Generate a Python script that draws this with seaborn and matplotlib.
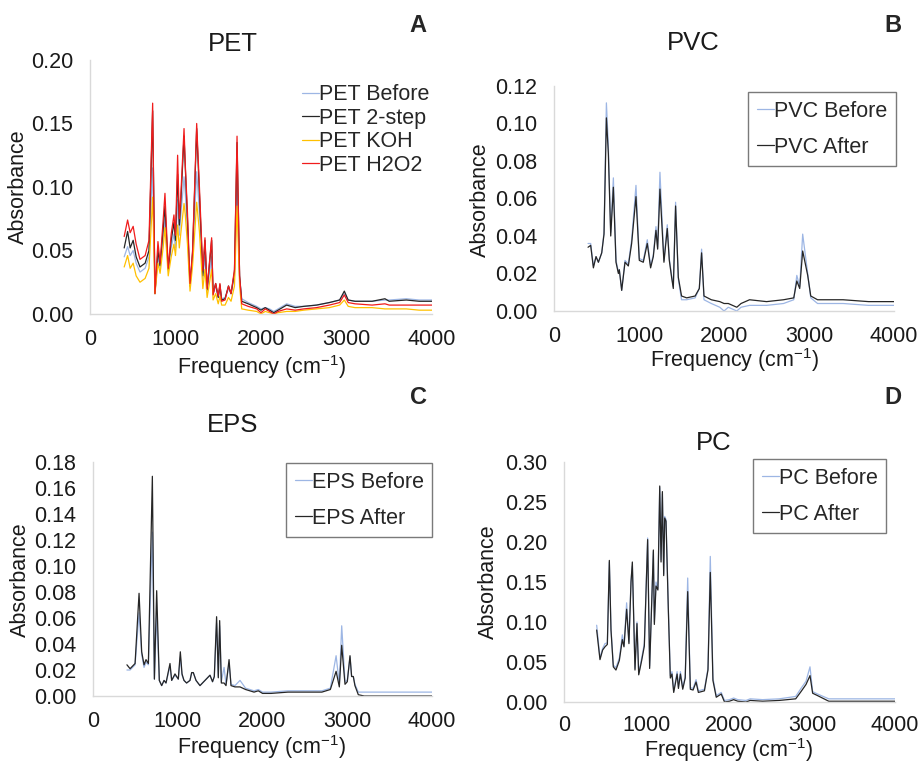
import numpy as np
import pandas as pd
import matplotlib
matplotlib.use("Agg")
import matplotlib.pyplot as plt
import seaborn as sns

# ---- PET (panel A) ----
pet_freq = [400, 440, 470, 505, 540, 585, 645, 690, 733, 760, 795, 820, 855, 877, 915, 950,
            982, 1000, 1025, 1045, 1060, 1100, 1115, 1140, 1170, 1200, 1248, 1280, 1320, 1345,
            1370, 1423, 1440, 1470, 1500, 1520, 1540, 1580, 1620, 1650, 1690, 1720, 1750, 1775,
            1850, 1950, 2000, 2050, 2100, 2150, 2200, 2300, 2400, 2500, 2650, 2800, 2920, 2975,
            3020, 3100, 3300, 3450, 3500, 3700, 3850, 4000]
pet_before = [0.045, 0.053, 0.046, 0.050, 0.040, 0.033, 0.036, 0.045, 0.115, 0.017, 0.045, 0.036,
              0.058, 0.075, 0.034, 0.052, 0.063, 0.052, 0.090, 0.062, 0.075, 0.108, 0.095, 0.065,
              0.022, 0.045, 0.112, 0.080, 0.028, 0.045, 0.018, 0.045, 0.016, 0.022, 0.013, 0.020,
              0.012, 0.013, 0.020, 0.016, 0.030, 0.105, 0.028, 0.012, 0.009, 0.006, 0.004, 0.005,
              0.004, 0.002, 0.004, 0.008, 0.006, 0.006, 0.007, 0.009, 0.011, 0.016, 0.011, 0.010,
              0.010, 0.011, 0.011, 0.012, 0.011, 0.011]
pet_2step = [0.052, 0.065, 0.052, 0.058, 0.045, 0.037, 0.040, 0.050, 0.160, 0.016, 0.050, 0.038,
             0.066, 0.085, 0.035, 0.058, 0.072, 0.058, 0.110, 0.070, 0.085, 0.140, 0.115, 0.075,
             0.022, 0.048, 0.146, 0.095, 0.030, 0.058, 0.019, 0.058, 0.016, 0.024, 0.013, 0.023,
             0.011, 0.012, 0.022, 0.016, 0.033, 0.135, 0.030, 0.010, 0.008, 0.005, 0.003, 0.005,
             0.003, 0.001, 0.003, 0.007, 0.005, 0.006, 0.007, 0.009, 0.011, 0.018, 0.011, 0.010,
             0.010, 0.012, 0.010, 0.011, 0.010, 0.010]
pet_koh = [0.037, 0.046, 0.036, 0.040, 0.030, 0.025, 0.028, 0.036, 0.092, 0.016, 0.040, 0.032,
           0.052, 0.068, 0.030, 0.045, 0.055, 0.046, 0.070, 0.052, 0.062, 0.087, 0.078, 0.055,
           0.018, 0.038, 0.088, 0.065, 0.020, 0.035, 0.013, 0.035, 0.011, 0.016, 0.008, 0.014,
           0.007, 0.007, 0.013, 0.010, 0.022, 0.085, 0.022, 0.004, 0.003, 0.002, 0.000, 0.002,
           0.001, 0.000, 0.001, 0.002, 0.002, 0.003, 0.004, 0.005, 0.007, 0.011, 0.006, 0.005,
           0.005, 0.004, 0.004, 0.004, 0.003, 0.003]
pet_h2o2 = [0.061, 0.074, 0.064, 0.069, 0.055, 0.043, 0.046, 0.058, 0.166, 0.016, 0.057, 0.040,
            0.073, 0.095, 0.036, 0.063, 0.078, 0.062, 0.125, 0.075, 0.090, 0.146, 0.117, 0.080,
            0.024, 0.050, 0.150, 0.100, 0.034, 0.060, 0.020, 0.060, 0.015, 0.024, 0.014, 0.024,
            0.010, 0.011, 0.022, 0.016, 0.035, 0.140, 0.030, 0.008, 0.006, 0.004, 0.001, 0.004,
            0.002, 0.000, 0.002, 0.004, 0.003, 0.004, 0.005, 0.007, 0.009, 0.015, 0.009, 0.008,
            0.007, 0.008, 0.007, 0.007, 0.007, 0.007]

# ---- PVC (panel B) ----
pvc_freq = [400, 431, 463, 494, 522, 561, 588, 616, 639, 667, 698, 729, 757, 768, 796, 835, 874,
            913, 964, 1003, 1050, 1097, 1136, 1168, 1199, 1219, 1246, 1293, 1332, 1356, 1383, 1403,
            1430, 1462, 1500, 1560, 1660, 1709, 1736, 1764, 1850, 1950, 2000, 2050, 2150, 2200,
            2300, 2500, 2700, 2820, 2856, 2890, 2925, 2984, 3020, 3100, 3400, 3700, 4000]
pvc_before = [0.036, 0.036, 0.024, 0.029, 0.026, 0.031, 0.042, 0.111, 0.088, 0.042, 0.071, 0.027,
              0.021, 0.022, 0.011, 0.027, 0.025, 0.038, 0.067, 0.028, 0.027, 0.038, 0.024, 0.030,
              0.045, 0.034, 0.074, 0.027, 0.046, 0.028, 0.019, 0.013, 0.058, 0.017, 0.006, 0.006,
              0.007, 0.012, 0.033, 0.006, 0.004, 0.002, 0.000, 0.002, 0.000, 0.002, 0.003, 0.003,
              0.004, 0.006, 0.019, 0.013, 0.041, 0.020, 0.007, 0.004, 0.004, 0.003, 0.003]
pvc_after = [0.034, 0.035, 0.023, 0.029, 0.026, 0.031, 0.041, 0.103, 0.084, 0.040, 0.066, 0.026,
             0.020, 0.022, 0.011, 0.026, 0.024, 0.036, 0.061, 0.027, 0.026, 0.036, 0.023, 0.029,
             0.043, 0.033, 0.065, 0.026, 0.044, 0.027, 0.018, 0.012, 0.056, 0.018, 0.008, 0.007,
             0.008, 0.012, 0.031, 0.008, 0.006, 0.005, 0.004, 0.004, 0.002, 0.004, 0.006, 0.005,
             0.006, 0.007, 0.016, 0.012, 0.032, 0.019, 0.008, 0.006, 0.006, 0.005, 0.005]

# ---- EPS (panel C) ----
eps_freq = [400, 437, 496, 543, 574, 602, 625, 653, 700, 724, 751, 782, 810, 838, 861, 908, 928,
            967, 1006, 1030, 1050, 1073, 1104, 1144, 1164, 1183, 1215, 1262, 1321, 1380, 1410, 1431,
            1458, 1478, 1494, 1514, 1546, 1569, 1605, 1628, 1675, 1734, 1800, 1850, 1900, 1950,
            2000, 2100, 2300, 2500, 2700, 2800, 2868, 2906, 2934, 2973, 3000, 3032, 3051, 3071,
            3090, 3130, 3200, 3500, 3800, 4000]
eps_before = [0.020, 0.020, 0.024, 0.064, 0.032, 0.022, 0.026, 0.024, 0.126, 0.013, 0.064, 0.012,
              0.008, 0.012, 0.010, 0.023, 0.012, 0.016, 0.013, 0.030, 0.016, 0.012, 0.010, 0.012,
              0.018, 0.018, 0.012, 0.008, 0.012, 0.016, 0.011, 0.015, 0.056, 0.015, 0.054, 0.011,
              0.022, 0.009, 0.025, 0.009, 0.008, 0.012, 0.006, 0.005, 0.004, 0.005, 0.003, 0.003,
              0.004, 0.004, 0.004, 0.006, 0.031, 0.009, 0.054, 0.011, 0.012, 0.030, 0.015, 0.015,
              0.009, 0.003, 0.003, 0.003, 0.003, 0.003]
eps_after = [0.024, 0.021, 0.025, 0.079, 0.034, 0.024, 0.028, 0.025, 0.169, 0.013, 0.081, 0.012,
             0.008, 0.012, 0.010, 0.025, 0.012, 0.017, 0.013, 0.034, 0.017, 0.012, 0.010, 0.012,
             0.018, 0.018, 0.012, 0.008, 0.012, 0.016, 0.011, 0.015, 0.061, 0.014, 0.058, 0.010,
             0.010, 0.008, 0.028, 0.008, 0.007, 0.007, 0.005, 0.004, 0.003, 0.004, 0.002, 0.002,
             0.003, 0.003, 0.003, 0.005, 0.019, 0.007, 0.039, 0.009, 0.011, 0.031, 0.015, 0.015,
             0.008, 0.001, 0.000, 0.000, 0.000, 0.000]

# ---- PC (panel D) ----
pc_freq = [395, 435, 467, 495, 524, 548, 568, 596, 628, 669, 705, 725, 757, 785, 810, 826, 858,
           882, 903, 939, 971, 1011, 1035, 1080, 1092, 1112, 1135, 1157, 1173, 1189, 1205, 1217,
           1233, 1261, 1285, 1305, 1326, 1367, 1383, 1407, 1435, 1465, 1495, 1527, 1560, 1596,
           1624, 1697, 1740, 1768, 1800, 1840, 1900, 1940, 2000, 2050, 2100, 2200, 2250, 2400,
           2600, 2800, 2864, 2925, 2973, 3005, 3065, 3200, 3500, 4000]
pc_before = [0.096, 0.055, 0.067, 0.073, 0.074, 0.175, 0.092, 0.046, 0.043, 0.055, 0.084, 0.070,
             0.124, 0.075, 0.152, 0.170, 0.042, 0.100, 0.036, 0.055, 0.073, 0.205, 0.045, 0.188,
             0.100, 0.150, 0.142, 0.268, 0.178, 0.260, 0.160, 0.232, 0.228, 0.118, 0.033, 0.038,
             0.014, 0.038, 0.019, 0.038, 0.018, 0.032, 0.155, 0.018, 0.017, 0.028, 0.014, 0.016,
             0.042, 0.182, 0.030, 0.008, 0.012, 0.002, 0.003, 0.005, 0.003, 0.002, 0.004, 0.003,
             0.004, 0.007, 0.017, 0.026, 0.044, 0.013, 0.010, 0.004, 0.004, 0.004]
pc_after = [0.090, 0.053, 0.065, 0.069, 0.072, 0.177, 0.090, 0.044, 0.040, 0.052, 0.078, 0.069,
            0.116, 0.073, 0.150, 0.175, 0.040, 0.098, 0.034, 0.052, 0.070, 0.203, 0.042, 0.190,
            0.097, 0.145, 0.140, 0.270, 0.175, 0.263, 0.158, 0.230, 0.226, 0.115, 0.030, 0.035,
            0.012, 0.035, 0.017, 0.035, 0.016, 0.030, 0.138, 0.016, 0.015, 0.025, 0.012, 0.014,
            0.040, 0.162, 0.027, 0.006, 0.010, 0.000, 0.001, 0.003, 0.001, 0.000, 0.002, 0.001,
            0.002, 0.004, 0.013, 0.022, 0.033, 0.011, 0.008, 0.001, 0.001, 0.001]

BLUE = "#9db6e4"
BLACK = "#262626"
YELLOW = "#ffc000"
RED = "#f01c1c"
TXT = "#1a1a1a"
FS = 15.5

sns.set_theme(style="white")
plt.rcParams["font.family"] = ["Liberation Sans", "DejaVu Sans"]
plt.rcParams["mathtext.default"] = "regular"

fig = plt.figure(figsize=(9.22, 7.63), dpi=100)

panels = [
    dict(rect=[0.0976, 0.5885, 0.3709, 0.3329], title="PET", tpos=(0.418, 1.063),
         ymax=0.20, ystep=0.05, ylab=(-0.208, 0.5), xlab=(0.503, -0.209),
         series=[("PET Before", pet_freq, pet_before, BLUE),
                 ("PET 2-step", pet_freq, pet_2step, BLACK),
                 ("PET KOH", pet_freq, pet_koh, YELLOW),
                 ("PET H2O2", pet_freq, pet_h2o2, RED)],
         leg=(0.62, 0.905), frame=False, lspace=0.12),
    dict(rect=[0.6009, 0.5924, 0.3688, 0.2949], title="PVC", tpos=(0.41, 1.19),
         ymax=0.12, ystep=0.02, ylab=(-0.215, 0.493), xlab=(0.53, -0.218),
         series=[("PVC Before", pvc_freq, pvc_before, BLUE),
                 ("PVC After", pvc_freq, pvc_after, BLACK)],
         leg=(0.571, 0.973), frame=True, lspace=0.7),
    dict(rect=[0.1009, 0.0878, 0.3677, 0.3067], title="EPS", tpos=(0.413, 1.158),
         ymax=0.18, ystep=0.02, ylab=(-0.215, 0.496), xlab=(0.4985, -0.218),
         series=[("EPS Before", eps_freq, eps_before, BLUE),
                 ("EPS After", eps_freq, eps_after, BLACK)],
         leg=(0.569, 0.996), frame=True, lspace=0.7),
    dict(rect=[0.6117, 0.0799, 0.3590, 0.3146], title="PC", tpos=(0.453, 1.079),
         ymax=0.30, ystep=0.05, ylab=(-0.227, 0.5), xlab=(0.4985, -0.202),
         series=[("PC Before", pc_freq, pc_before, BLUE),
                 ("PC After", pc_freq, pc_after, BLACK)],
         leg=(0.571, 1.0125), frame=True, lspace=0.7),
]

for i, p in enumerate(panels):
    ax = fig.add_axes(p["rect"])
    for name, fx, fy, col in p["series"]:
        df = pd.DataFrame({"freq": fx, "abs": fy})
        sns.lineplot(data=df, x="freq", y="abs", color=col, linewidth=0.9,
                     sort=False, estimator=None, label=name, ax=ax)
    ax.set_xlim(0, 4000)
    ax.set_ylim(0, p["ymax"])
    ax.set_xticks([0, 1000, 2000, 3000, 4000])
    yt = np.arange(0, p["ymax"] + 1e-9, p["ystep"])
    ax.set_yticks(yt)
    ax.set_yticklabels([f"{v:.2f}" for v in yt])
    ax.tick_params(axis="both", length=0, labelsize=FS, colors=TXT)
    ax.tick_params(axis="y", pad=12)
    ax.tick_params(axis="x", pad=9 if i == 3 else 10.5)
    for s in ["top", "right"]:
        ax.spines[s].set_visible(False)
    for s in ["left", "bottom"]:
        ax.spines[s].set_color("#d9d9d9")
        ax.spines[s].set_linewidth(1.0)
    ax.set_ylabel("Absorbance", fontsize=FS, color=TXT)
    ax.set_xlabel("Frequency (cm$^{-1}$)", fontsize=FS, color=TXT)
    ax.yaxis.set_label_coords(*p["ylab"])
    ax.xaxis.set_label_coords(*p["xlab"])
    ax.xaxis.label.set_va("center")
    ax.yaxis.label.set_va("center")
    ax.text(p["tpos"][0], p["tpos"][1], p["title"], transform=ax.transAxes,
            ha="center", va="center", fontsize=18.5, color=TXT)
    leg = ax.legend(loc="upper left", bbox_to_anchor=p["leg"], borderaxespad=0,
                    frameon=p["frame"], fancybox=False, fontsize=FS,
                    handlelength=0.8, handletextpad=0.0, labelspacing=p["lspace"],
                    borderpad=0.4 if p["frame"] else 0.0)
    if p["frame"]:
        leg.get_frame().set_edgecolor("#595959")
        leg.get_frame().set_linewidth(1.0)
    for line in leg.get_lines():
        line.set_linewidth(0.9)

for letter, x, y in [("A", 0.4534, 0.9672), ("B", 0.9685, 0.9672),
                     ("C", 0.4534, 0.4784), ("D", 0.9685, 0.4784)]:
    fig.text(x, y, letter, ha="center", va="center", fontsize=17, fontweight="bold")

fig.savefig("out.png", dpi=100)
